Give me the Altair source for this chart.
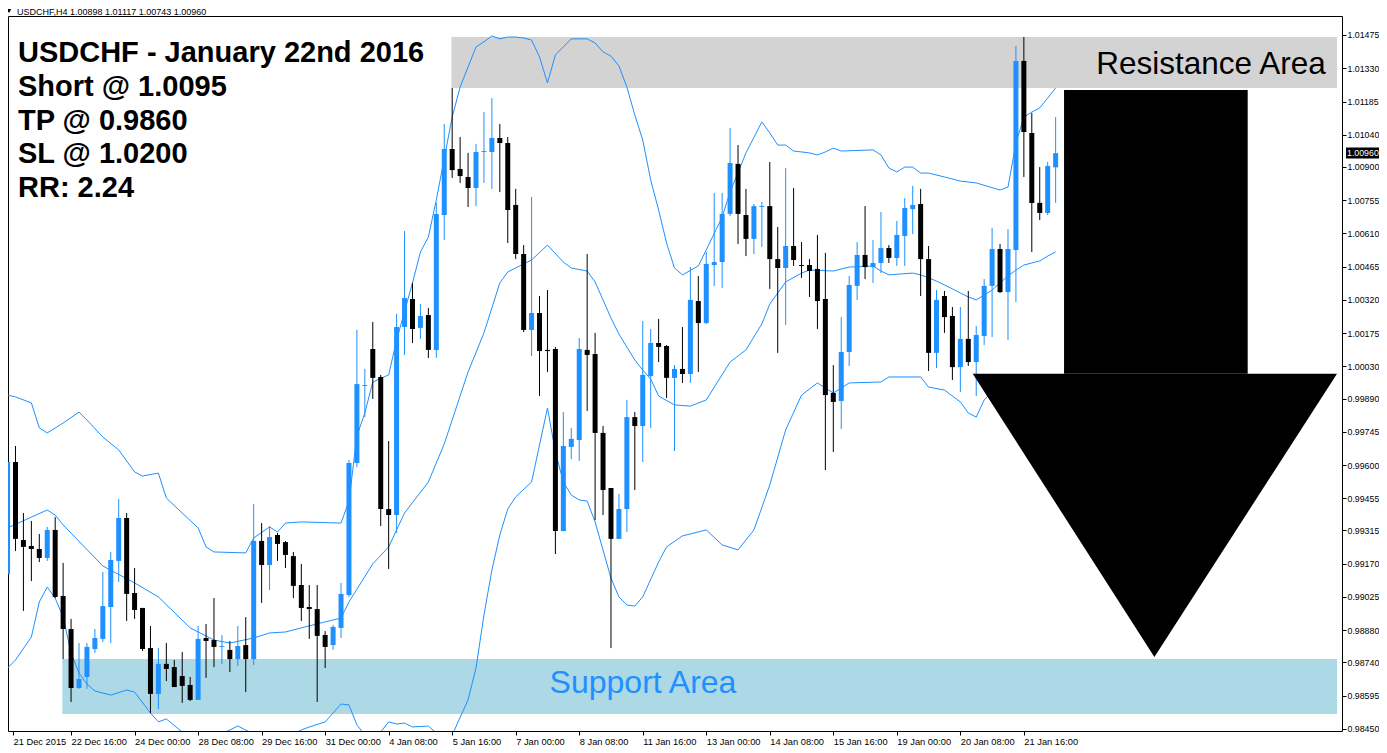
import altair as alt
import pandas as pd

# ---------------- data ----------------
opens = [0.99125, 0.99613, 0.99273, 0.99247, 0.99234, 0.99195, 0.99317, 0.99029, 0.98885, 0.98628,
         0.98676, 0.98798, 0.98842, 0.98981, 0.99182, 0.99369, 0.99042, 0.98977, 0.98802, 0.98602,
         0.98733, 0.98719, 0.98680, 0.98641, 0.98576, 0.98846, 0.98837, 0.98807, 0.98794, 0.98754,
         0.98815, 0.98754, 0.99269, 0.99164, 0.99295, 0.99264, 0.99203, 0.99077, 0.98981, 0.98972,
         0.98859, 0.98815, 0.98890, 0.99033, 0.99609, 0.99945, 1.00106, 0.99984, 0.99408, 0.99382,
         1.00202, 1.00324, 1.00198, 1.00254, 1.00102, 1.00690, 1.00978, 1.00891, 1.00856, 1.00808,
         1.00965, 1.00965, 1.01026, 1.01004, 1.00734, 1.00520, 1.00189, 1.00263, 1.00102, 1.00106,
         0.99312, 0.99679, 0.99709, 1.00102, 1.00084, 0.99740, 0.99500, 0.99278, 0.99408, 0.99809,
         0.99770, 0.99988, 1.00132, 1.00119, 0.99980, 1.00019, 0.99997, 1.00315, 1.00219, 1.00472,
         1.00485, 1.00695, 1.00913, 1.00690, 1.00586, 1.00725, 1.00729, 1.00498, 1.00459, 1.00555,
         1.00472, 1.00472, 1.00455, 1.00324, 0.99914, 0.99879, 1.00093, 1.00381, 1.00516, 1.00463,
         1.00481, 1.00546, 1.00503, 1.00599, 1.00716, 1.00738, 1.00498, 1.00089, 1.00337, 1.00250,
         1.00027, 1.00150, 1.00049, 1.00163, 1.00381, 1.00542, 1.00354, 1.00538, 1.01362, 1.01048,
         1.00743, 1.00699, 1.00898]
highs = [0.99613, 0.99683, 0.99391, 0.99356, 0.99299, 0.99330, 0.99373, 0.99173, 0.98929, 0.98824,
         0.98824, 0.98885, 0.99134, 0.99221, 0.99452, 0.99391, 0.99151, 0.98977, 0.98898, 0.98802,
         0.98824, 0.98750, 0.98785, 0.98676, 0.98898, 0.98907, 0.99020, 0.98859, 0.98833, 0.98898,
         0.98937, 0.99430, 0.99347, 0.99334, 0.99304, 0.99269, 0.99221, 0.99169, 0.99077, 0.99077,
         0.98876, 0.98903, 0.99086, 0.99622, 1.00189, 1.00019, 1.00224, 0.99993, 0.99705, 1.00259,
         1.00620, 1.00394, 1.00302, 1.00285, 1.00743, 1.01087, 1.01244, 1.01030, 1.00961, 1.01000,
         1.01139, 1.01200, 1.01087, 1.01030, 1.00804, 1.00559, 1.00769, 1.00337, 1.00363, 1.00115,
         0.99831, 0.99762, 1.00154, 1.00520, 1.00176, 0.99770, 0.99500, 0.99474, 0.99884, 0.99831,
         1.00228, 1.00193, 1.00237, 1.00123, 1.00036, 1.00202, 1.00463, 1.00424, 1.00529, 1.00786,
         1.00786, 1.01070, 1.00995, 1.00804, 1.00738, 1.00747, 1.00921, 1.00638, 1.00895, 1.00808,
         1.00572, 1.00498, 1.00603, 1.00525, 1.00036, 1.00245, 1.00424, 1.00572, 1.00729, 1.00581,
         1.00703, 1.00559, 1.00664, 1.00764, 1.00817, 1.00804, 1.00555, 1.00363, 1.00359, 1.00289,
         1.00289, 1.00359, 1.00206, 1.00411, 1.00634, 1.00564, 1.00629, 1.01427, 1.01466, 1.01135,
         1.00899, 1.00921, 1.01117]
lows = [0.99077, 0.99225, 0.98964, 0.99094, 0.99177, 0.99182, 0.99020, 0.98754, 0.98567, 0.98624,
        0.98624, 0.98781, 0.98828, 0.98824, 0.99090, 0.98920, 0.98929, 0.98789, 0.98519, 0.98536,
        0.98658, 0.98632, 0.98563, 0.98571, 0.98576, 0.98672, 0.98719, 0.98733, 0.98698, 0.98724,
        0.98610, 0.98728, 0.98999, 0.99055, 0.99182, 0.99151, 0.99020, 0.98920, 0.98842, 0.98567,
        0.98715, 0.98794, 0.98846, 0.99025, 0.99591, 0.99809, 0.99888, 0.99334, 0.99147, 0.99304,
        1.00080, 1.00132, 1.00150, 1.00067, 1.00067, 1.00581, 1.00852, 1.00830, 1.00725, 1.00729,
        1.00830, 1.00804, 1.00790, 1.00568, 1.00498, 1.00180, 1.00075, 0.99901, 1.00006, 0.99212,
        0.99312, 0.99626, 0.99618, 0.99836, 0.99360, 0.99382, 0.98802, 0.99278, 0.99308, 0.99491,
        0.99613, 0.99762, 1.00049, 0.99892, 0.99661, 0.99958, 0.99958, 1.00006, 1.00215, 1.00381,
        1.00372, 1.00686, 1.00564, 1.00511, 1.00520, 1.00551, 1.00368, 1.00089, 1.00211, 1.00468,
        1.00416, 1.00333, 1.00193, 0.99578, 0.99657, 0.99757, 1.00032, 1.00320, 1.00411, 1.00394,
        1.00437, 1.00481, 1.00468, 1.00468, 1.00607, 1.00337, 1.00010, 1.00023, 1.00176, 0.99971,
        0.99918, 1.00032, 0.99901, 1.00123, 1.00158, 1.00350, 1.00145, 1.00311, 1.00856, 1.00529,
        1.00668, 1.00690, 1.00743]
closes = [0.99613, 0.99278, 0.99243, 0.99234, 0.99195, 0.99317, 0.99025, 0.98885, 0.98628, 0.98667,
          0.98807, 0.98846, 0.98985, 0.99186, 0.99369, 0.99038, 0.98968, 0.98798, 0.98602, 0.98733,
          0.98711, 0.98632, 0.98637, 0.98576, 0.98842, 0.98833, 0.98807, 0.98811, 0.98754, 0.98811,
          0.98754, 0.99269, 0.99164, 0.99286, 0.99256, 0.99208, 0.99073, 0.98977, 0.98972, 0.98855,
          0.98807, 0.98894, 0.99038, 0.99609, 0.99953, 0.99949, 0.99980, 0.99408, 0.99382, 1.00202,
          1.00328, 1.00193, 1.00250, 1.00102, 1.00695, 1.00978, 1.00886, 1.00860, 1.00808, 1.00965,
          1.00969, 1.01026, 1.01004, 1.00712, 1.00520, 1.00189, 1.00263, 1.00097, 1.00097, 0.99312,
          0.99683, 0.99714, 1.00106, 1.00080, 0.99740, 0.99491, 0.99278, 0.99408, 0.99809, 0.99770,
          0.99993, 1.00132, 1.00115, 0.99980, 1.00019, 0.99997, 1.00320, 1.00219, 1.00477, 1.00485,
          1.00695, 1.00917, 1.00695, 1.00586, 1.00729, 1.00729, 1.00498, 1.00459, 1.00555, 1.00494,
          1.00468, 1.00446, 1.00315, 0.99905, 0.99875, 1.00093, 1.00385, 1.00516, 1.00463, 1.00481,
          1.00546, 1.00503, 1.00603, 1.00721, 1.00734, 1.00498, 1.00089, 1.00320, 1.00245, 1.00027,
          1.00150, 1.00049, 1.00167, 1.00381, 1.00542, 1.00354, 1.00542, 1.01362, 1.01052, 1.00743,
          1.00699, 1.00904, 1.00960]

# Bollinger bands (bar index, price)
upper_idx = [0, 1, 3, 4, 5, 7, 9, 10, 12, 14, 16, 17, 19, 20, 24, 25, 26, 30, 31, 33, 34, 35, 37, 42, 43,
             44, 45, 46, 48, 49, 51, 52, 53, 54, 56, 57, 59, 60, 61, 62, 63, 64, 65, 66, 67, 68, 69, 70,
             71, 73, 74, 75, 76, 77, 78, 79, 80, 81, 82, 83, 84, 85, 87, 88, 90, 91, 93, 95, 96, 97, 98,
             99, 101, 102, 103, 104, 105, 109, 110, 111, 112, 113, 114, 115, 116, 118, 120, 122, 125,
             126, 127, 128, 129, 130, 131, 132]
upper_val = [0.99905, 0.99897, 0.99871, 0.99762, 0.99740, 0.99783, 0.99831, 0.99796, 0.99722, 0.99666,
             0.99570, 0.99552, 0.99565, 0.99456, 0.99326, 0.99243, 0.99221, 0.99217, 0.99282, 0.99330,
             0.99308, 0.99347, 0.99352, 0.99347, 0.99443, 0.99727, 0.99827, 0.99962, 0.99993, 1.00145,
             1.00394, 1.00529, 1.00594, 1.00756, 1.01117, 1.01248, 1.01423, 1.01445, 1.01471, 1.01458,
             1.01466, 1.01466, 1.01462, 1.01453, 1.01379, 1.01266, 1.01388, 1.01423, 1.01458, 1.01458,
             1.01440, 1.01401, 1.01383, 1.01340, 1.01248, 1.01126, 1.01017, 1.00843, 1.00712, 1.00568,
             1.00459, 1.00429, 1.00468, 1.00538, 1.00681, 1.00790, 1.00961, 1.01096, 1.01048, 1.00995,
             1.00995, 1.00969, 1.00961, 1.00952, 1.00965, 1.00982, 1.00969, 1.00974, 1.00952, 1.00895,
             1.00878, 1.00899, 1.00899, 1.00873, 1.00873, 1.00856, 1.00838, 1.00830, 1.00799, 1.00812,
             1.01004, 1.01117, 1.01139, 1.01157, 1.01200, 1.01244]
middle_idx = [0, 5, 6, 7, 12, 16, 19, 23, 26, 28, 31, 33, 35, 37, 40, 42, 43, 46, 48, 50, 53, 55, 58, 60,
              62, 63, 66, 68, 70, 71, 73, 74, 75, 76, 77, 79, 80, 81, 82, 84, 86, 88, 91, 93, 95, 96, 98,
              100, 101, 104, 106, 109, 110, 111, 114, 115, 116, 117, 119, 120, 121, 122, 123, 124, 125,
              126, 127, 128, 129, 130, 131, 132]
middle_val = [0.99326, 0.99404, 0.99382, 0.99339, 0.99160, 0.99086, 0.99025, 0.98890, 0.98837, 0.98824,
              0.98846, 0.98868, 0.98872, 0.98890, 0.98916, 0.98933, 0.99003, 0.99169, 0.99243, 0.99391,
              0.99526, 0.99692, 1.00006, 1.00176, 1.00394, 1.00442, 1.00494, 1.00559, 1.00485, 1.00459,
              1.00446, 1.00398, 1.00320, 1.00241, 1.00171, 1.00058, 1.00014, 0.99975, 0.99901, 0.99862,
              0.99857, 0.99884, 1.00049, 1.00102, 1.00215, 1.00302, 1.00398, 1.00437, 1.00450, 1.00446,
              1.00463, 1.00468, 1.00446, 1.00429, 1.00437, 1.00429, 1.00416, 1.00402, 1.00368, 1.00350,
              1.00333, 1.00320, 1.00341, 1.00363, 1.00394, 1.00424, 1.00450, 1.00472, 1.00481, 1.00490,
              1.00511, 1.00529]
lower_idx = [0, 1, 3, 4, 5, 6, 7, 8, 9, 10, 11, 13, 15, 16, 18, 19, 20, 22, 24, 26, 28, 29, 31, 33, 35,
             37, 38, 40, 42, 43, 44, 45, 47, 48, 49, 50, 51, 53, 54, 55, 56, 58, 59, 60, 61, 62, 63, 64,
             66, 68, 69, 70, 71, 72, 73, 74, 76, 77, 78, 79, 80, 82, 83, 85, 88, 90, 92, 94, 96, 98, 100,
             102, 104, 106, 110, 111, 115, 116, 118, 120, 121, 122, 123, 124, 126, 128, 130, 132]
lower_val = [0.98715, 0.98750, 0.98850, 0.99003, 0.99068, 0.99020, 0.98937, 0.98781, 0.98693, 0.98645,
             0.98615, 0.98597, 0.98619, 0.98610, 0.98519, 0.98480, 0.98493, 0.98436, 0.98380, 0.98410,
             0.98445, 0.98462, 0.98427, 0.98401, 0.98410, 0.98445, 0.98458, 0.98480, 0.98558, 0.98554,
             0.98467, 0.98423, 0.98436, 0.98480, 0.98471, 0.98475, 0.98458, 0.98462, 0.98432, 0.98380,
             0.98423, 0.98576, 0.98715, 0.98946, 0.99142, 0.99295, 0.99408, 0.99461, 0.99526, 0.99849,
             0.99657, 0.99526, 0.99469, 0.99448, 0.99443, 0.99352, 0.99107, 0.99025, 0.98990, 0.98985,
             0.99025, 0.99177, 0.99243, 0.99291, 0.99317, 0.99252, 0.99230, 0.99317, 0.99513, 0.99753,
             0.99905, 0.99958, 0.99914, 0.99958, 0.99962, 0.99984, 0.99984, 0.99940, 0.99927, 0.99875,
             0.99827, 0.99809, 0.99884, 0.99918, 0.99930, 0.99910, 0.99900, 0.99890]

x_label_idx = [0, 8, 16, 24, 32, 40, 48, 56, 64, 72, 80, 88, 96, 104, 112, 120, 128]
x_labels = ["21 Dec 2015", "22 Dec 16:00", "24 Dec 00:00", "28 Dec 08:00", "29 Dec 16:00",
            "31 Dec 00:00", "4 Jan 08:00", "5 Jan 16:00", "7 Jan 00:00", "8 Jan 08:00",
            "11 Jan 16:00", "13 Jan 00:00", "14 Jan 08:00", "15 Jan 16:00", "19 Jan 00:00",
            "20 Jan 08:00", "21 Jan 16:00"]
y_ticks = [1.01475, 1.01330, 1.01185, 1.01040, 1.00900, 1.00755, 1.00610, 1.00465, 1.00320, 1.00175,
           1.00030, 0.99890, 0.99745, 0.99600, 0.99455, 0.99315, 0.99170, 0.99025, 0.98880, 0.98740,
           0.98595, 0.98450]

header = "USDCHF,H4  1.00898 1.01117 1.00743 1.00960"
last_price = 1.00960
info_lines = ["USDCHF - January 22nd 2016", "Short @ 1.0095", "TP @ 0.9860", "SL @ 1.0200", "RR: 2.24"]

resistance = {"x0": 55.9, "p_low": 1.01244, "p_high": 1.01466}
support = {"x0": 6.9, "p_low": 0.98515, "p_high": 0.98754}
arrow_shaft = {"x0": 133.06, "x1": 156.19, "p_top": 1.01235, "p_base": 0.99998}
arrow_head_x = [121.56, 144.44, 167.44]
arrow_head_low = [0.99998, 0.98763, 0.99998]

# ---------------- chart ----------------
BLUE = "#1E90FF"
FONT = "Liberation Sans"
W, H = 1334, 715
X_DOM = [0.6875, 167.4375]
Y_DOM = [0.984404, 1.015578]

xscale = alt.Scale(domain=X_DOM, nice=False, zero=False)
yscale = alt.Scale(domain=Y_DOM, nice=False, zero=False)

lbl_js = "[" + ",".join("'" + s + "'" for s in x_labels) + "]"
x_axis = alt.Axis(values=[X_DOM[0]] + x_label_idx[1:], labelExpr=lbl_js + "[round(datum.value/8)]",
                  title=None, grid=False, domain=False, ticks=True, tickSize=4, tickColor="black",
                  labelAlign="left", labelBaseline="top", labelPadding=2, labelFont=FONT,
                  labelFontSize=9.3, labelColor="black", labelFlush=False, labelOverlap=False)
y_axis = alt.Axis(values=y_ticks, format=".5f", orient="right", title=None, grid=False, domain=False,
                  ticks=True, tickSize=4, tickColor="black", labelPadding=1, labelFont=FONT,
                  labelFontSize=8.8, labelColor="black", labelOverlap=False, labelFlush=False)


def X(f):
    return alt.X(f, type="quantitative", scale=xscale, axis=x_axis)


def Y(f):
    return alt.Y(f, type="quantitative", scale=yscale, axis=y_axis)


candles = pd.DataFrame({"i": list(range(len(opens))), "o": opens, "h": highs, "l": lows, "c": closes})
candles["col"] = ["#1E90FF" if c > o else "#000000" for o, c in zip(opens, closes)]

zones = pd.DataFrame({
    "x0": [resistance["x0"], support["x0"]], "x1": [X_DOM[1], X_DOM[1]],
    "p0": [resistance["p_low"], support["p_low"]], "p1": [resistance["p_high"], support["p_high"]],
    "col": ["#D3D3D3", "#ADD8E6"]})

zone_layer = alt.Chart(zones).mark_rect(clip=True).encode(
    x=X("x0"), x2="x1", y=Y("p0"), y2="p1", color=alt.Color("col:N", scale=None))

bands = pd.concat([
    pd.DataFrame({"i": upper_idx, "v": upper_val, "band": "upper"}),
    pd.DataFrame({"i": middle_idx, "v": middle_val, "band": "middle"}),
    pd.DataFrame({"i": lower_idx, "v": lower_val, "band": "lower"})])
band_layer = alt.Chart(bands).mark_line(color=BLUE, strokeWidth=1, clip=True).encode(
    x=X("i"), y=Y("v"), detail="band:N")

wick_layer = alt.Chart(candles).mark_rule(strokeWidth=1, clip=True).encode(
    x=X("i"), y=Y("l"), y2="h", color=alt.Color("col:N", scale=None))
body_layer = alt.Chart(candles).mark_bar(size=5, clip=True).encode(
    x=X("i"), y=Y("o"), y2="c", color=alt.Color("col:N", scale=None))

shaft = pd.DataFrame([arrow_shaft])
shaft_layer = alt.Chart(shaft).mark_rect(color="black", clip=True).encode(
    x=X("x0"), x2="x1", y=Y("p_base"), y2="p_top")
head = pd.DataFrame({"x": arrow_head_x, "top": [arrow_shaft["p_base"]] * 3, "bot": arrow_head_low})
head_layer = alt.Chart(head).mark_area(color="black", orient="vertical", clip=True).encode(
    x=X("x"), y=Y("top"), y2="bot")

one = pd.DataFrame({"a": [0]})


def ptext(txt, x, y, size, **kw):
    return alt.Chart(one).mark_text(text=txt, font=FONT, fontSize=size, **kw).encode(
        x=alt.value(x), y=alt.value(y))


texts = [ptext(t, 10, 46 + 33.8 * k, 29, fontWeight="bold", align="left", baseline="alphabetic",
               color="black") for k, t in enumerate(info_lines)]
texts.append(ptext("Resistance Area", 1203, 58, 31.5, align="center", baseline="alphabetic", color="black"))
texts.append(ptext("Support Area", 635, 677, 32, align="center", baseline="alphabetic", color=BLUE))
texts.append(ptext(header, 9, -1.5, 9, align="left", baseline="alphabetic", color="black"))

tri = alt.Chart(one).mark_point(shape="triangle-down", filled=True, color="black", size=20, opacity=1).encode(
    x=alt.value(1), y=alt.value(-5))

price_df = pd.DataFrame({"p": [last_price], "p0": [last_price - 0.00024], "p1": [last_price + 0.00024],
                         "t": ["%.5f" % last_price]})
price_box = alt.Chart(price_df).mark_rect(color="black").encode(
    x=alt.value(W + 4), x2=alt.value(W + 37), y=Y("p0"), y2="p1")
price_txt = alt.Chart(price_df).mark_text(color="white", font=FONT, fontSize=8.8, align="left",
                                          baseline="middle").encode(
    x=alt.value(W + 5), y=Y("p"), text="t:N")

chart = alt.layer(zone_layer, band_layer, wick_layer, body_layer, shaft_layer, head_layer,
                  *texts, tri, price_box, price_txt).properties(
    width=W, height=H,
    autosize=alt.AutoSizeParams(type="none"),
    padding={"left": 0, "top": 8, "right": 37, "bottom": 14},
    background="white",
).configure_view(stroke="black", strokeWidth=1)

chart.save("out.html", embed_options={"renderer": "svg", "actions": False})
